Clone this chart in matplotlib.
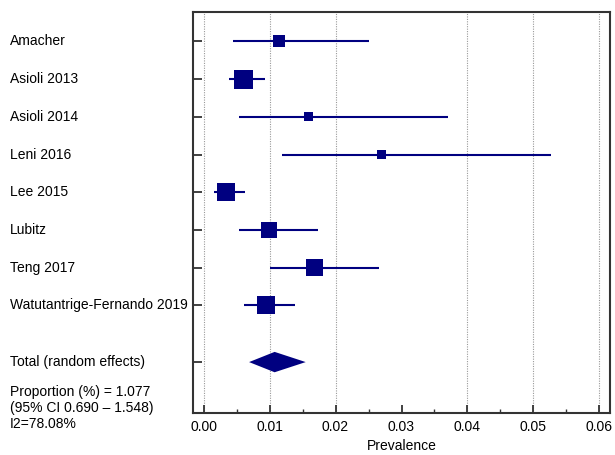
import matplotlib.pyplot as plt
import matplotlib.transforms as mtransforms
from matplotlib.ticker import MultipleLocator

plt.rcParams["font.family"] = ["Liberation Sans", "DejaVu Sans"]

# study data
studies = ["Amacher", "Asioli 2013", "Asioli 2014", "Leni 2016", "Lee 2015",
           "Lubitz", "Teng 2017", "Watutantrige-Fernando 2019"]
estimate = [0.0115, 0.0061, 0.0159, 0.0269, 0.0034, 0.0099, 0.0168, 0.0094]
ci_low = [0.0044, 0.0038, 0.0053, 0.0119, 0.0016, 0.0053, 0.0101, 0.0062]
ci_high = [0.0251, 0.0093, 0.0371, 0.0526, 0.0063, 0.0174, 0.0266, 0.0139]
weight = [12, 19, 9, 9, 18, 16, 17, 18]  # square side, px

total_label = "Total (random effects)"
total_est = 0.01077
total_low = 0.0069
total_high = 0.01548
summary_lines = ["Proportion (%) = 1.077", "(95% CI 0.690 \u2013 1.548)", "I2=78.08%"]

navy = "#000080"

fig = plt.figure(figsize=(6.15, 4.55), dpi=100)
W, H = 615, 455
ax = fig.add_axes([193 / W, (455 - 413) / H, (610 - 193) / W, (413 - 12) / H])

rows = list(range(len(studies)))
total_row = len(studies) + 0.5

# confidence intervals and weighted squares
for r, lo, hi in zip(rows, ci_low, ci_high):
    ax.plot([lo, hi], [r, r], color=navy, lw=1.5, solid_capstyle="butt", zorder=3)
ax.scatter(estimate, rows, marker="s", s=[(w * 0.72) ** 2 for w in weight],
           color=navy, zorder=4, linewidths=0)

# pooled estimate diamond
dh = 0.27
ax.fill([total_low, total_est, total_high, total_est],
        [total_row, total_row - dh, total_row, total_row + dh],
        color=navy, zorder=4, lw=0)

ax.set_xlim(-0.0016, 0.0616)
ax.set_ylim(9.85, -0.78)

# dotted vertical gridlines
for g in [0.0, 0.01, 0.02, 0.04, 0.05, 0.06]:
    ax.axvline(g, color="#999999", lw=0.8, ls=(0, (1, 1.2)), zorder=1)

ax.xaxis.set_major_locator(MultipleLocator(0.01))
ax.xaxis.set_minor_locator(MultipleLocator(0.005))
ax.xaxis.set_major_formatter(plt.FuncFormatter(lambda v, p: f"{v:.2f}"))
ax.tick_params(axis="x", which="major", direction="in", length=5.5, width=1.3,
               color="#333333", labelsize=10, pad=5)
ax.tick_params(axis="x", which="minor", direction="in", length=3, width=1.0,
               color="#333333")
ax.set_yticks(rows + [total_row])
ax.set_yticklabels([])
ax.tick_params(axis="y", direction="in", length=6.5, width=1.3, color="#333333")
ax.set_xlabel("Prevalence", fontsize=10, labelpad=4)

for s in ax.spines.values():
    s.set_color("#333333")
    s.set_linewidth(1.5)

# study labels on the left
trans = mtransforms.blended_transform_factory(fig.transFigure, ax.transData)
for r, name in zip(rows, studies):
    ax.text(10 / W, r, name, transform=trans, ha="left", va="center", fontsize=10)
ax.text(10 / W, total_row, total_label, transform=trans, ha="left", va="center", fontsize=10)

for i, line in enumerate(summary_lines):
    fig.text(10 / W, 1 - (392 + i * 16.2) / H, line, ha="left", va="center", fontsize=10)

fig.savefig("out.png", dpi=100)
